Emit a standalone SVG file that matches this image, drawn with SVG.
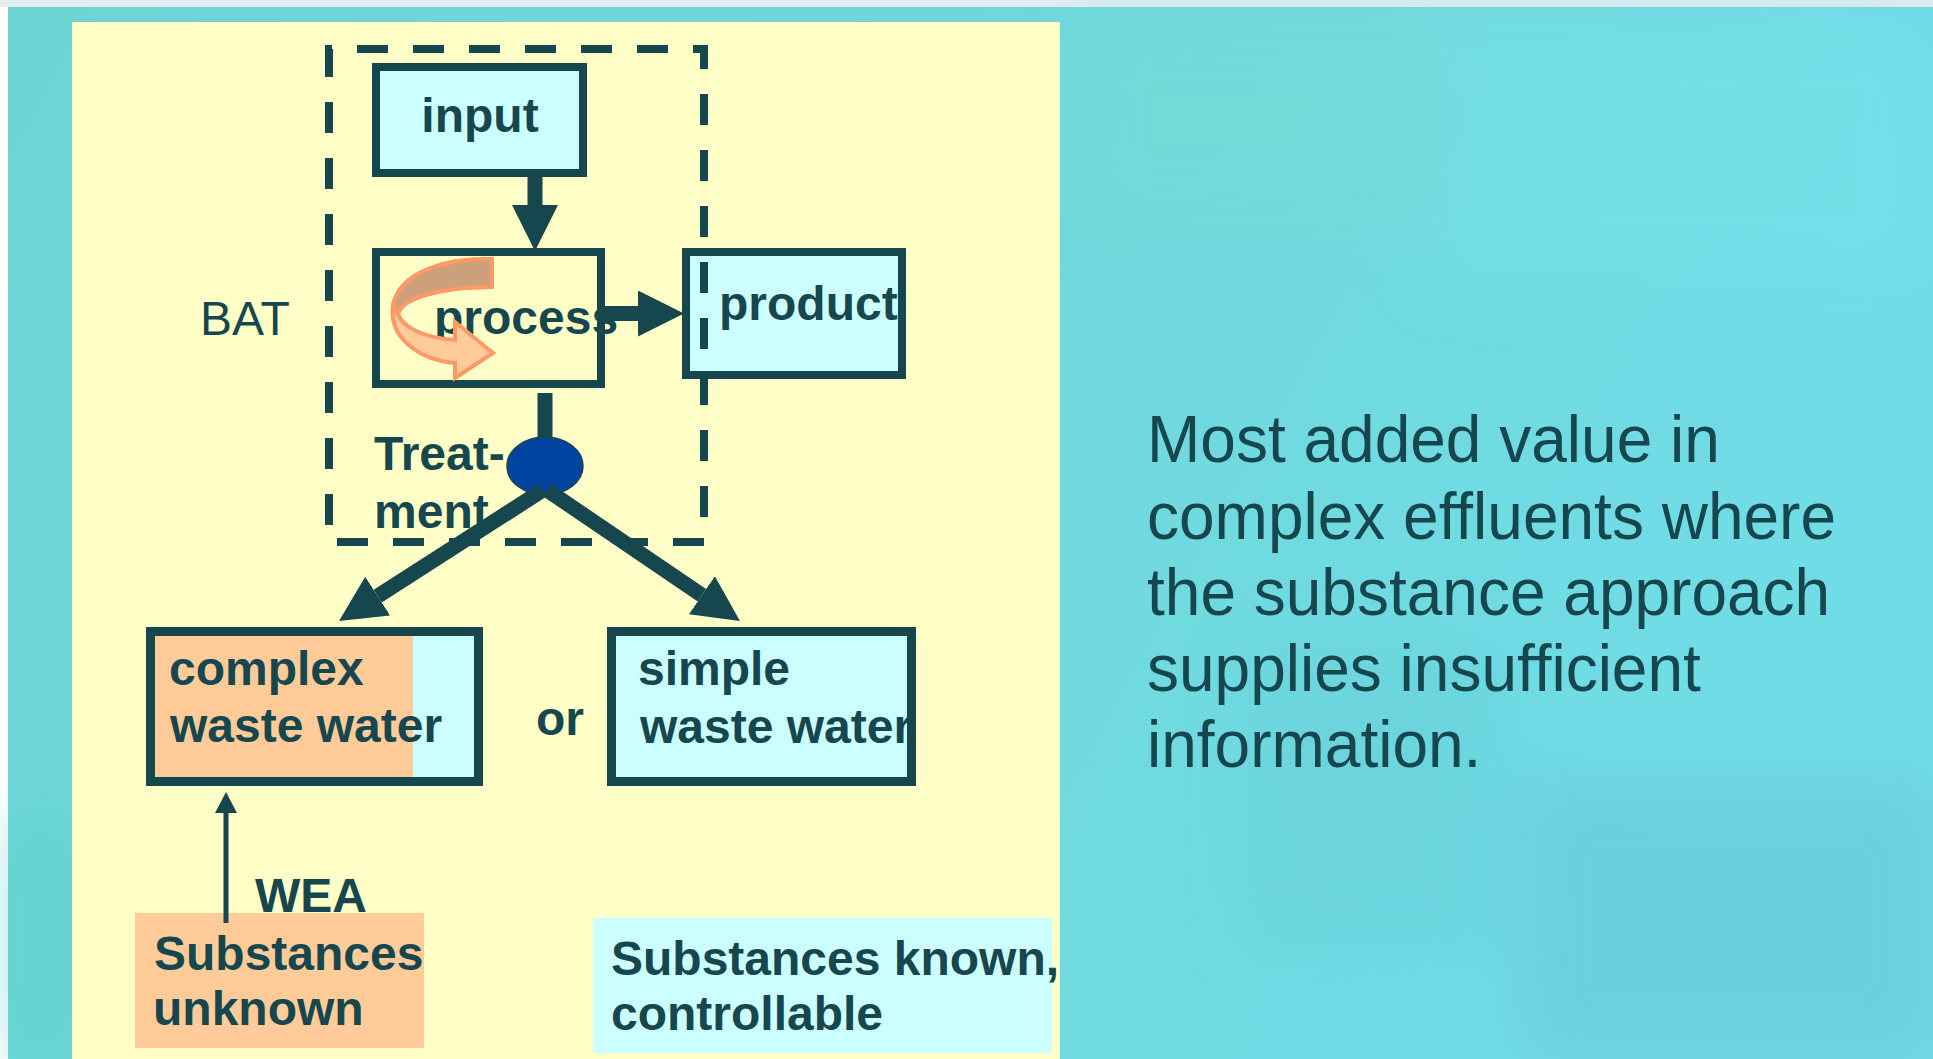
<svg xmlns="http://www.w3.org/2000/svg" width="1933" height="1059" viewBox="0 0 1933 1059">
  <defs>
    <style>
      .lbl { font-family: "Liberation Sans", Arial, sans-serif; font-size: 48px; font-weight: bold; fill: #17474e; }
      .reg { font-family: "Liberation Sans", Arial, sans-serif; font-size: 48px; fill: #17474e; }
      .note { font-family: "Liberation Sans", Arial, sans-serif; font-size: 66px; fill: #17474e; }
      .box { stroke: #17474e; stroke-width: 8; }
      .wbox { stroke: #17474e; stroke-width: 9; }
      .flow { stroke: #17474e; stroke-width: 15; fill: none; }
      .bat { stroke: #17474e; stroke-width: 8; fill: none; stroke-dasharray: 31 25; stroke-dashoffset: 28; }
      .cyan { fill: #ccffff; }
      .peach { fill: #ffcc99; }
      .cream { fill: #ffffc8; }
    </style>
    <linearGradient id="sea" x1="0" y1="0" x2="1" y2="0.3">
      <stop offset="0" stop-color="#6bd5d6"/>
      <stop offset="0.55" stop-color="#6fd8dc"/>
      <stop offset="1" stop-color="#70dce6"/>
    </linearGradient>
    <filter id="soft" x="-20%" y="-20%" width="140%" height="140%">
      <feGaussianBlur stdDeviation="30"/>
    </filter>
    <marker id="head" markerUnits="userSpaceOnUse" viewBox="0 0 46 46" markerWidth="46" markerHeight="46" refX="0" refY="23" orient="auto">
      <path d="M0,0 L46,23 L0,46 Z" fill="#17474e"/>
    </marker>
    <marker id="headSmall" markerUnits="userSpaceOnUse" viewBox="0 0 21 22" markerWidth="21" markerHeight="22" refX="0" refY="11" orient="auto">
      <path d="M0,0 L21,11 L0,22 Z" fill="#17474e"/>
    </marker>
  </defs>

  <!-- page background -->
  <rect x="0" y="0" width="1933" height="1059" fill="#ffffff"/>
  <rect x="0" y="0" width="1933" height="7" fill="#e4ecef"/>
  <rect x="8" y="7" width="1925" height="1052" fill="url(#sea)"/>
  <g filter="url(#soft)" opacity="0.5">
    <rect x="1430" y="20" width="500" height="260" fill="#78e2ea"/>
    <rect x="1520" y="780" width="420" height="280" fill="#66c4d6"/>
    <rect x="1080" y="20" width="360" height="200" fill="#74dcd6"/>
    <rect x="8" y="820" width="70" height="240" fill="#5ccccc"/>
    <rect x="1250" y="650" width="250" height="300" fill="#68cfd8"/>
  </g>

  <!-- diagram panel -->
  <rect x="72" y="22" width="988" height="1037" class="cream"/>

  <g id="input">
    <rect x="376" y="67" width="207" height="106" class="box cyan"/>
    <text x="480" y="132" class="lbl" text-anchor="middle">input</text>
  </g>

  <g id="process">
    <rect x="376" y="252" width="225" height="132" class="box cream"/>
    <text x="434" y="334" class="lbl">process</text>
    <!-- recycling arrow inside the process box -->
    <path d="M492,259 C445,258 400,272 393,305 C388,338 420,360 455,363 L455,378 L493,353 L455,322 L455,340 C425,338 403,328 398,314 C402,298 440,287 492,287 Z" fill="#ffcc99" stroke="#ff9966" stroke-width="4" stroke-linejoin="miter"/>
    <path d="M492,259 C445,258 400,272 393,305 L398,314 C402,298 440,287 492,287 Z" fill="#cca07a" stroke="#ff9966" stroke-width="4"/>
  </g>

  <g id="product">
    <rect x="686" y="252" width="216" height="123" class="box cyan"/>
    <text x="719" y="320" class="lbl">product</text>
  </g>

  <g id="bat-label">
    <text x="200" y="335" class="reg">BAT</text>
  </g>

  <g id="treatment">
    <text x="374" y="470" class="lbl">Treat-</text>
    <text x="374" y="528" class="lbl">ment</text>
  </g>

  <g id="complex-waste-water">
    <rect x="150.5" y="631.5" width="328" height="150" class="cyan"/>
    <rect x="155" y="636" width="258" height="141" class="peach"/>
    <rect x="150.5" y="631.5" width="328" height="150" class="wbox" fill="none"/>
    <text x="169" y="685" class="lbl">complex</text>
    <text x="170" y="742" class="lbl">waste water</text>
  </g>

  <g id="or-label">
    <text x="536" y="735" class="lbl">or</text>
  </g>

  <g id="simple-waste-water">
    <rect x="611.5" y="631.5" width="300" height="150" class="wbox cyan"/>
    <text x="638" y="685" class="lbl">simple</text>
    <text x="640" y="743" class="lbl">waste water</text>
  </g>

  <g id="substances-unknown">
    <rect x="135" y="913" width="289" height="135" class="peach"/>
    <text x="154" y="970" class="lbl">Substances</text>
    <text x="153" y="1025" class="lbl">unknown</text>
  </g>

  <g id="substances-known">
    <rect x="593" y="918" width="459" height="135" class="cyan"/>
    <text x="611" y="975" class="lbl">Substances known,</text>
    <text x="611" y="1030" class="lbl">controllable</text>
  </g>

  <g id="connectors">
    <line x1="535" y1="177" x2="535" y2="205" class="flow" marker-end="url(#head)"/>
    <line x1="601" y1="313.5" x2="638" y2="313.5" class="flow" marker-end="url(#head)"/>
    <line x1="545" y1="393" x2="545" y2="442" class="flow"/>
    <ellipse id="treatment-node" cx="545" cy="466" rx="38" ry="29" fill="#0044a0" stroke="#17474e" stroke-width="1.5"/>
    <line x1="543" y1="490" x2="377.7" y2="596.1" class="flow" marker-end="url(#head)"/>
    <line x1="547" y1="490" x2="701.9" y2="595.2" class="flow" marker-end="url(#head)"/>
    <line x1="226" y1="923" x2="226" y2="813" stroke="#17474e" stroke-width="5" marker-end="url(#headSmall)"/>
  </g>

  <g id="wea-label">
    <text x="255" y="912" class="lbl">WEA</text>
  </g>

  <!-- BAT system boundary -->
  <path d="M329,49 H704 V542 H329 Z" class="bat"/>

  <g id="note" transform="translate(1147,0) scale(0.97,1)">
    <text x="0" y="462" class="note">Most added value in</text>
    <text x="0" y="539" class="note">complex effluents where</text>
    <text x="0" y="615" class="note">the substance approach</text>
    <text x="0" y="691" class="note">supplies insufficient</text>
    <text x="0" y="767" class="note">information.</text>
  </g>
</svg>
